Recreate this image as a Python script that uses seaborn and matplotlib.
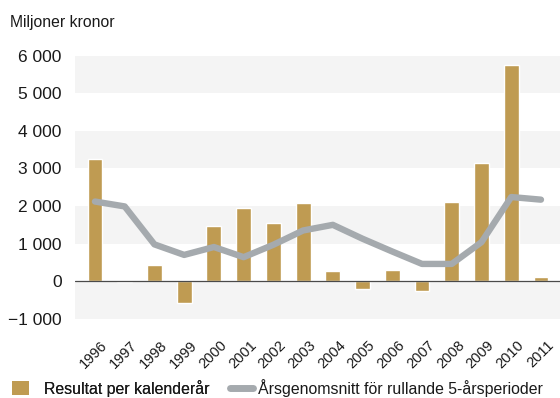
import numpy as np
import pandas as pd
import matplotlib
matplotlib.use("Agg")
import matplotlib.pyplot as plt
from matplotlib.patches import Patch
from matplotlib.lines import Line2D
from matplotlib.ticker import FuncFormatter, MultipleLocator
from matplotlib.transforms import ScaledTranslation
import seaborn as sns

# Yearly result (million SEK) and the rolling 5-year yearly average
years = ["1996", "1997", "1998", "1999", "2000", "2001", "2002", "2003",
         "2004", "2005", "2006", "2007", "2008", "2009", "2010", "2011"]
result = [3240, -20, 420, -590, 1480, 1960, 1560, 2070,
          260, -200, 310, -270, 2100, 3140, 5750, 120]
rolling_avg = [2120, 1990, 980, 700, 910, 640, 970, 1350,
               1500, 1130, 790, 460, 460, 1040, 2240, 2170]

bar_label = "Resultat per kalenderår"
line_label = "Årsgenomsnitt för rullande 5-årsperioder"
unit_label = "Miljoner kronor"

GOLD = "#bf9b52"
GREY = "#a5aaae"
BAND = "#f4f4f4"

sns.set_theme(style="white")
plt.rcParams["font.family"] = ["Liberation Sans", "DejaVu Sans"]
plt.rcParams["axes.unicode_minus"] = True

df = pd.DataFrame({"year": years, "result": result, "avg": rolling_avg})
df["pos"] = np.arange(len(df))

fig = plt.figure(figsize=(5.6, 3.98), dpi=100)
ax = fig.add_axes([0.134, 0.199, 0.866, 0.661])

# alternating horizontal bands
for lo in (-1000, 1000, 3000, 5000):
    ax.axhspan(lo, lo + 1000, color=BAND, lw=0, zorder=0)

sns.barplot(data=df, x="year", y="result", color=GOLD, saturation=1,
            width=0.5, ax=ax, zorder=2)
ax.axhline(0, color="#4a4a4a", lw=0.9, zorder=3)
sns.lineplot(data=df, x="pos", y="avg", color=GREY, lw=4.6, ax=ax,
             zorder=4, solid_capstyle="round", solid_joinstyle="round")

ax.set_ylim(-1000, 6000)
ax.set_xlim(-0.67, 15.64)
ax.yaxis.set_major_locator(MultipleLocator(1000))


def fmt(v, _):
    s = f"{abs(int(round(v))):,}".replace(",", " ")
    return ("\u2212" + s) if v < 0 else s


ax.yaxis.set_major_formatter(FuncFormatter(fmt))
ax.set_xticks(df["pos"])
ax.set_xticklabels(years, rotation=45, ha="right", rotation_mode="anchor",
                   fontsize=10.5)
ax.tick_params(axis="y", labelsize=12.5, length=0, pad=9.5)
ax.tick_params(axis="x", length=0, pad=14)
ax.set_xlabel("")
ax.set_ylabel("")
for s in ax.spines.values():
    s.set_visible(False)
shift = ScaledTranslation(4 / 72, 0, fig.dpi_scale_trans)
for t in ax.get_xticklabels():
    t.set_transform(t.get_transform() + shift)
for t in ax.get_yticklabels() + ax.get_xticklabels():
    t.set_color("#1a1a1a")

fig.text(0.018, 0.943, unit_label, fontsize=11.3, color="#1a1a1a", va="center")

leg1 = fig.legend(handles=[Patch(facecolor=GOLD, edgecolor="none", label=bar_label)],
                  loc="center left", bbox_to_anchor=(0.022, 0.025), frameon=False,
                  fontsize=11.4, handlelength=1.05, handleheight=1.05,
                  handletextpad=0.95, borderaxespad=0, borderpad=0,
                  labelcolor="#1a1a1a")
fig.add_artist(leg1)
fig.legend(handles=[Line2D([], [], color=GREY, lw=5, solid_capstyle="round",
                           label=line_label)],
           loc="center left", bbox_to_anchor=(0.41, 0.025), frameon=False,
           fontsize=11.4, handlelength=1.45, handletextpad=0.35,
           borderaxespad=0, borderpad=0, labelcolor="#1a1a1a")

fig.savefig("out.png", dpi=100)
